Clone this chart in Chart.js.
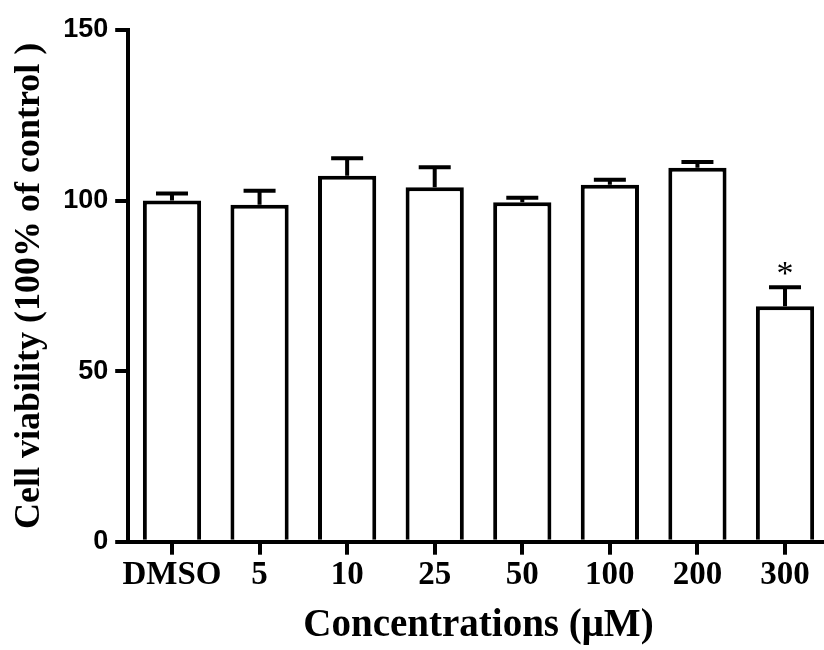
<!DOCTYPE html>
<html>
<head>
<meta charset="utf-8">
<script src="https://cdn.jsdelivr.net/npm/chart.js@4/dist/chart.umd.min.js"></script>
<style>
  html, body { margin: 0; padding: 0; background: #fff; overflow: hidden; }
  #wrap { width: 830px; height: 650px; }
</style>
</head>
<body>
<div id="wrap"><canvas id="c" width="830" height="650"></canvas></div>
<script>
const categories = ['DMSO', '5', '10', '25', '50', '100', '200', '300'];
const viability = [100.0, 98.8, 107.3, 103.9, 99.5, 104.6, 109.6, 69.0];
const errorUp = [2.1, 4.1, 5.1, 5.9, 1.3, 1.5, 1.7, 5.6];
const significant = [false, false, false, false, false, false, false, true];
const yTicks = [0, 50, 100, 150];
const xTitle = 'Concentrations (\u03BCM)';
const yTitle = 'Cell viability (100% of control )';

const errorBarPlugin = {
  id: 'errorBars',
  afterDatasetsDraw(chart) {
    const ctx = chart.ctx;
    const xs = chart.scales.x, ys = chart.scales.y;
    ctx.save();
    ctx.strokeStyle = '#000';
    ctx.lineWidth = 4;
    ctx.lineCap = 'butt';
    viability.forEach((v, i) => {
      const x = xs.getPixelForValue(i);
      const yTop = ys.getPixelForValue(v);
      const yErr = ys.getPixelForValue(v + errorUp[i]);
      ctx.beginPath();
      ctx.moveTo(x, yTop);
      ctx.lineTo(x, yErr);
      ctx.moveTo(x - 16, yErr);
      ctx.lineTo(x + 16, yErr);
      ctx.stroke();
      if (significant[i]) {
        ctx.fillStyle = '#000';
        ctx.font = '34px "Liberation Serif"';
        ctx.textAlign = 'center';
        ctx.textBaseline = 'alphabetic';
        ctx.fillText('*', x, yErr - 3);
      }
    });
    ctx.restore();
  }
};

new Chart(document.getElementById('c'), {
  type: 'bar',
  data: {
    labels: categories,
    datasets: [{
      data: viability,
      backgroundColor: '#ffffff',
      borderColor: '#000000',
      borderWidth: 4,
      barPercentage: 0.665,
      categoryPercentage: 1.0
    }]
  },
  options: {
    responsive: false,
    animation: false,
    devicePixelRatio: 1,
    layout: { padding: { top: 30, right: 1.2, bottom: 0, left: 0 } },
    plugins: { legend: { display: false }, tooltip: { enabled: false } },
    scales: {
      x: {
        afterFit(scale) { scale.height = 108.3; },
        grid: { offset: false, drawOnChartArea: false, drawTicks: true, tickLength: 13, lineWidth: 4, color: '#000' },
        border: { display: true, color: '#000', width: 4 },
        ticks: {
          color: '#000', padding: 1, maxRotation: 0, autoSkip: false,
          font: { family: '"Liberation Serif", "Times New Roman", serif', weight: 'bold', size: 33 }
        },
        title: {
          display: true, text: xTitle, color: '#000',
          padding: { top: 0, bottom: 1 },
          font: { family: '"Liberation Serif", "Times New Roman", serif', weight: 'bold', size: 39 }
        }
      },
      y: {
        min: 0, max: 150,
        afterFit(scale) { scale.width = 128.2; },
        afterBuildTicks(scale) { scale.ticks = yTicks.map(v => ({ value: v })); },
        grid: { drawOnChartArea: false, drawTicks: true, tickLength: 13, lineWidth: 4, color: '#000' },
        border: { display: true, color: '#000', width: 4 },
        ticks: {
          color: '#000', padding: 7,
          font: { family: '"Liberation Sans", Arial, sans-serif', weight: 'bold', size: 27 }
        },
        title: {
          display: true, text: yTitle, color: '#000',
          padding: { top: 8, bottom: 0 },
          font: { family: '"Liberation Serif", "Times New Roman", serif', weight: 'bold', size: 36 }
        }
      }
    }
  },
  plugins: [errorBarPlugin]
});
</script>
</body>
</html>
